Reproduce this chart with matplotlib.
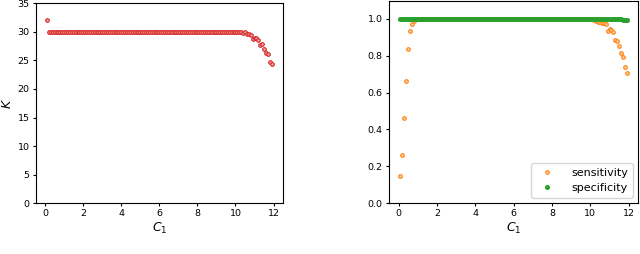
import numpy as np
import matplotlib.pyplot as plt

# C1 grid, 0.1 .. 11.9
c1 = np.round(np.arange(1, 120) * 0.1, 1)

# estimated K-hat (left panel)
k_tail = [29.9, 29.9, 29.9, 29.8, 29.9, 29.7, 29.6, 29.5, 28.7, 29.0,
          28.9, 28.6, 27.7, 27.9, 27.0, 26.3, 26.1, 24.7, 24.4]
k_hat = [32.0] + [30.0] * (119 - 1 - len(k_tail)) + k_tail

# sensitivity / specificity (right panel)
sens_head = [0.15, 0.26, 0.465, 0.665, 0.835, 0.935, 0.975, 0.99]
sens_tail = [0.998, 0.995, 0.99, 0.985, 0.985, 0.98, 0.98, 0.975, 0.936, 0.947,
             0.94, 0.93, 0.886, 0.879, 0.855, 0.817, 0.792, 0.741, 0.708]
sensitivity = sens_head + [1.0] * (119 - len(sens_head) - len(sens_tail)) + sens_tail
spec_tail = [0.999, 0.999, 0.998, 0.998, 0.998, 0.997, 0.997, 0.996, 0.996, 0.995]
specificity = [1.0] * (119 - len(spec_tail)) + spec_tail

plt.rcParams['font.size'] = 6.8

fig = plt.figure(figsize=(6.4, 2.54), dpi=100)
ax1 = fig.add_axes([0.056, 0.2, 0.386, 0.787])
ax2 = fig.add_axes([0.608, 0.2, 0.389, 0.798])

ax1.plot(c1, k_hat, 'o', ms=2.6, mfc='#f2a3a3', mec='#d62728', mew=0.8)
ax1.set_ylim(0, 35)
ax1.set_xlabel('$C_1$', fontsize=9, labelpad=2)
ax1.set_ylabel(r'$\widehat{K}$', fontsize=9, labelpad=2)

ax2.plot(c1, sensitivity, 'o', ms=2.6, mfc='#ffd0a0', mec='#ff7f0e', mew=0.8,
         label='sensitivity')
ax2.plot(c1, specificity, 'o', ms=2.6, color='#2ca02c', label='specificity')
ax2.set_ylim(0, 1.1)
ax2.set_xlabel('$C_1$', fontsize=9, labelpad=2)
ax2.legend(loc='lower right', fontsize=8, handletextpad=1.2)

for ax in (ax1, ax2):
    ax.set_xticks(range(0, 13, 2))
    ax.tick_params(length=2.5, pad=2)

fig.savefig('out.png', dpi=100)
